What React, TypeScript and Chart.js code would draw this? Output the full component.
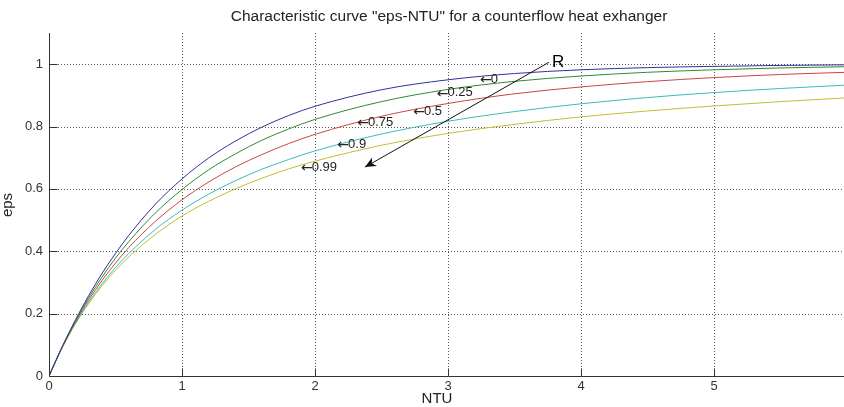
import React, { useEffect, useRef } from "react";
import { Chart, registerables } from "chart.js";

Chart.register(...registerables);

// Number of transfer units along the x axis
const NTU = [0, 0.1, 0.2, 0.3, 0.4, 0.5, 0.6, 0.8, 1.0, 1.2, 1.4, 1.6, 1.8, 2.0, 2.5, 3.0, 3.5, 4.0, 4.5, 5.0, 5.5, 6.0];

// Effectiveness for each capacity ratio R
const effR0 = [0, 0.095, 0.181, 0.259, 0.330, 0.393, 0.451, 0.551, 0.632, 0.699, 0.753, 0.798, 0.835, 0.865, 0.918, 0.950, 0.970, 0.982, 0.989, 0.993, 0.996, 0.998];
const effR025 = [0, 0.094, 0.177, 0.252, 0.318, 0.378, 0.431, 0.523, 0.598, 0.661, 0.712, 0.756, 0.792, 0.823, 0.880, 0.919, 0.945, 0.962, 0.974, 0.982, 0.988, 0.992];
const effR05 = [0, 0.093, 0.174, 0.245, 0.307, 0.362, 0.412, 0.496, 0.565, 0.622, 0.670, 0.710, 0.745, 0.775, 0.833, 0.874, 0.905, 0.927, 0.944, 0.957, 0.967, 0.974];
const effR075 = [0, 0.092, 0.170, 0.238, 0.296, 0.348, 0.393, 0.470, 0.532, 0.583, 0.626, 0.663, 0.694, 0.722, 0.776, 0.817, 0.848, 0.873, 0.893, 0.909, 0.922, 0.933];
const effR09 = [0, 0.091, 0.168, 0.233, 0.290, 0.339, 0.382, 0.454, 0.513, 0.560, 0.600, 0.634, 0.664, 0.689, 0.740, 0.778, 0.807, 0.831, 0.850, 0.866, 0.880, 0.892];

const curveColors = ["#30309a", "#2f8a2f", "#c84646", "#3dbaba", "#c4bc34"];

// Axis ticks
const xTicks = [0, 1, 2, 3, 4, 5, 6];
const xTickLabels = ["0", "1", "2", "3", "4", "5", "6"];
const yTicks = [0, 0.2, 0.4, 0.6, 0.8, 1.0];
const yTickLabels = ["0", "0.2", "0.4", "0.6", "0.8", "1"];

// In-plot labels for R (text, NTU, eps)
const rLabelText = ["0", "0.25", "0.5", "0.75", "0.9", "0.99"];
const rLabelX = [3.241, 2.915, 2.739, 2.318, 2.168, 1.895];
const rLabelY = [0.952, 0.908, 0.849, 0.813, 0.743, 0.668];

// Arrow showing the direction of increasing R
const arrowFrom = { x: 3.759, y: 1.006 };
const arrowTo = { x: 2.376, y: 0.670 };

const FONT = "'Liberation Sans', Arial, Helvetica, sans-serif";
const ARROW_FONT = "'DejaVu Sans', sans-serif";
const TITLE = 'Characteristic curve "eps-NTU" for a counterflow heat exhanger';

const framePlugin = {
  id: "matlabFrame",
  beforeDatasetsDraw(chart: any) {
    const { ctx, chartArea: a, scales } = chart;
    const xs = scales.x;
    const ys = scales.y;
    ctx.save();
    ctx.strokeStyle = "#555";
    ctx.lineWidth = 1;
    ctx.setLineDash([1, 2]);
    for (const v of xTicks) {
      if (v === 0) continue;
      const px = Math.round(xs.getPixelForValue(v)) + 0.5;
      ctx.beginPath();
      ctx.moveTo(px, a.top);
      ctx.lineTo(px, a.bottom);
      ctx.stroke();
    }
    for (const v of yTicks) {
      if (v === 0) continue;
      const py = Math.round(ys.getPixelForValue(v)) + 0.5;
      ctx.beginPath();
      ctx.moveTo(a.left, py);
      ctx.lineTo(a.right, py);
      ctx.stroke();
    }
    ctx.restore();
  },
  afterDatasetsDraw(chart: any) {
    const { ctx, chartArea: a, scales } = chart;
    const xs = scales.x;
    const ys = scales.y;
    ctx.save();
    // axes lines
    ctx.strokeStyle = "#333";
    ctx.lineWidth = 1;
    ctx.setLineDash([]);
    const x0 = Math.round(a.left) + 0.5;
    const y0 = Math.round(a.bottom) + 0.5;
    ctx.beginPath();
    ctx.moveTo(x0, a.top);
    ctx.lineTo(x0, y0);
    ctx.lineTo(a.right, y0);
    ctx.stroke();
    // inward tick marks
    const tl = 8;
    for (const v of xTicks) {
      const px = Math.round(xs.getPixelForValue(v)) + 0.5;
      ctx.beginPath();
      ctx.moveTo(px, y0);
      ctx.lineTo(px, y0 - tl);
      ctx.stroke();
    }
    for (const v of yTicks) {
      const py = Math.round(ys.getPixelForValue(v)) + 0.5;
      ctx.beginPath();
      ctx.moveTo(x0, py);
      ctx.lineTo(x0 + tl, py);
      ctx.stroke();
    }

    // R labels: a leftward arrow followed by the value
    ctx.fillStyle = "#222";
    ctx.textAlign = "left";
    ctx.textBaseline = "middle";
    rLabelText.forEach((t, i) => {
      const px = xs.getPixelForValue(rLabelX[i]);
      const py = ys.getPixelForValue(rLabelY[i]);
      ctx.font = `14px ${ARROW_FONT}`;
      ctx.fillText("\u2190", px, py + 1);
      const w = ctx.measureText("\u2190").width;
      ctx.font = `13px ${FONT}`;
      ctx.fillText(t, px + w - 1, py);
    });

    // arrow
    const ax = xs.getPixelForValue(arrowFrom.x);
    const ay = ys.getPixelForValue(arrowFrom.y);
    const bx = xs.getPixelForValue(arrowTo.x);
    const by = ys.getPixelForValue(arrowTo.y);
    ctx.strokeStyle = "#111";
    ctx.lineWidth = 1;
    ctx.beginPath();
    ctx.moveTo(ax, ay);
    ctx.lineTo(bx, by);
    ctx.stroke();
    const ang = Math.atan2(by - ay, bx - ax);
    const hl = 12;
    const hw = 0.42;
    ctx.fillStyle = "#111";
    ctx.beginPath();
    ctx.moveTo(bx, by);
    ctx.lineTo(bx - hl * Math.cos(ang - hw), by - hl * Math.sin(ang - hw));
    ctx.lineTo(bx - hl * 0.65 * Math.cos(ang), by - hl * 0.65 * Math.sin(ang));
    ctx.lineTo(bx - hl * Math.cos(ang + hw), by - hl * Math.sin(ang + hw));
    ctx.closePath();
    ctx.fill();

    ctx.fillStyle = "#000";
    ctx.font = `17px ${FONT}`;
    ctx.textAlign = "left";
    ctx.textBaseline = "middle";
    ctx.fillText("R", ax + 3, ay);

    // title and axis labels
    ctx.fillStyle = "#222";
    ctx.font = `15.5px ${FONT}`;
    ctx.textAlign = "center";
    ctx.textBaseline = "middle";
    ctx.fillText(TITLE, 449, 17);
    ctx.font = `15px ${FONT}`;
    ctx.fillText("NTU", 437, 399);
    ctx.save();
    ctx.translate(8, 205);
    ctx.rotate(-Math.PI / 2);
    ctx.fillText("eps", 0, 0);
    ctx.restore();
    ctx.restore();
  },
};

function series(values: number[]) {
  return NTU.map((x, i) => ({ x, y: values[i] }));
}

export default function App() {
  const ref = useRef<HTMLCanvasElement>(null);

  useEffect(() => {
    document.body.style.overflow = "hidden";
    const canvas = ref.current;
    if (!canvas) return;
    const all = [effR0, effR025, effR05, effR075, effR09];
    const chart = new Chart(canvas, {
      type: "line",
      data: {
        datasets: all.map((vals, i) => ({
          label: "R" + i,
          data: series(vals),
          borderColor: curveColors[i],
          backgroundColor: curveColors[i],
          borderWidth: 1,
          pointRadius: 0,
          cubicInterpolationMode: "monotone" as const,
          fill: false,
        })),
      },
      options: {
        animation: false,
        responsive: false,
        devicePixelRatio: 1,
        layout: { padding: { top: 33, right: 13, left: 0, bottom: 0 } },
        plugins: {
          legend: { display: false },
          title: { display: false },
          tooltip: { enabled: false },
        },
        scales: {
          x: {
            type: "linear",
            min: 0,
            max: 6,
            grid: { display: false, drawTicks: false },
            border: { display: false },
            afterBuildTicks: (s: any) => {
              s.ticks = xTicks.map((v) => ({ value: v }));
            },
            afterFit: (s: any) => {
              s.height = 31;
            },
            ticks: {
              padding: 3,
              autoSkip: false,
              maxRotation: 0,
              color: "#333",
              font: { family: FONT, size: 13 },
              callback: (_v: any, i: number) => xTickLabels[i],
            },
          },
          y: {
            type: "linear",
            min: 0,
            max: 1.1,
            grid: { display: false, drawTicks: false },
            border: { display: false },
            afterBuildTicks: (s: any) => {
              s.ticks = yTicks.map((v) => ({ value: v }));
            },
            afterFit: (s: any) => {
              s.width = 49;
            },
            ticks: {
              padding: 6,
              autoSkip: false,
              color: "#333",
              font: { family: FONT, size: 13 },
              callback: (_v: any, i: number) => yTickLabels[i],
            },
          },
        },
      },
      plugins: [framePlugin],
    });
    return () => chart.destroy();
  }, []);

  return (
    <div style={{ position: "fixed", left: 0, top: 0, width: 860, height: 407, background: "#fff" }}>
      <canvas ref={ref} width={860} height={407} style={{ display: "block", width: 860, height: 407 }} />
    </div>
  );
}
